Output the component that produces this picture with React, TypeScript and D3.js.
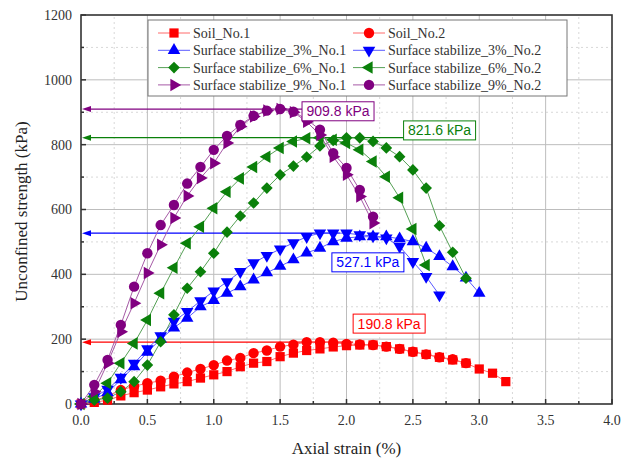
import React from "react";
import * as d3 from "d3";

// strain steps (%) shared by every series
const strain = [0, 0.1, 0.2, 0.3, 0.4, 0.5, 0.6, 0.7, 0.8, 0.9, 1.0, 1.1, 1.2, 1.3, 1.4, 1.5, 1.6,
  1.7, 1.8, 1.9, 2.0, 2.1, 2.2, 2.3, 2.4, 2.5, 2.6, 2.7, 2.8, 2.9, 3.0, 3.1, 3.2];

const soil1 = [0, 5, 12, 25, 35, 43, 53, 62, 69, 80, 90, 100, 115, 126, 131, 146, 157, 165, 170, 176,
  180, 182, 182, 177, 170, 161, 153, 144, 136, 126, 108, 95, 69];
const soil2 = [0, 10, 25, 43, 55, 64, 72, 84, 97, 108, 120, 134, 142, 157, 165, 177, 183, 191, 190.8, 189,
  185, 184, 182, 177, 170, 161, 153, 144, 138, 126];
const s3No1 = [0, 15, 35, 75, 115, 160, 200, 235, 265, 300, 320, 342, 362, 383, 405, 425, 445, 466, 481, 501,
  512, 516, 516, 516, 510, 501, 481, 455, 424, 389, 342];
const s3No2 = [0, 22, 45, 82, 125, 170, 210, 255, 285, 318, 348, 377, 408, 435, 458, 478, 497, 516, 527.1, 527,
  527, 522, 518, 512, 486, 439, 393, 336];
const s6No1 = [0, 12, 18, 38, 69, 120, 192, 275, 357, 408, 465, 530, 580, 620, 666, 707, 734, 762, 796, 813,
  821, 821, 810, 790, 763, 722, 666, 550, 468, 388];
const s6No2 = [0, 23, 64, 126, 187, 259, 342, 420, 496, 547, 604, 655, 696, 731, 763, 790, 810, 820, 821.6, 815,
  805, 784, 748, 701, 636, 540, 429];
const s9No1 = [0, 38, 126, 223, 311, 404, 491, 574, 642, 697, 743, 805, 856, 887, 905, 909.8, 900, 871, 830, 763,
  707, 640, 558];
const s9No2 = [0, 59, 136, 244, 362, 465, 552, 614, 680, 731, 784, 827, 861, 889, 905, 910, 902, 878, 846, 774,
  728, 660, 578];

const names = ["Soil_No.1", "Soil_No.2", "Surface stabilize_3%_No.1", "Surface stabilize_3%_No.2",
  "Surface stabilize_6%_No.1", "Surface stabilize_6%_No.2", "Surface stabilize_9%_No.1", "Surface stabilize_9%_No.2"];
const values = [soil1, soil2, s3No1, s3No2, s6No1, s6No2, s9No1, s9No2];

// peak annotations
const peakValues = [909.8, 821.6, 527.1, 190.8];
const peakTexts = ["909.8 kPa", "821.6 kPa", "527.1 kPa", "190.8 kPa"];
const peakLineEnd = [1.665, 2.43, 1.95, 2.05];   // strain where each arrow line stops
const peakLabelX = [1.665, 2.43, 1.89, 2.05];    // strain of label box left edge
const peakLabelY = [903, 844, 437, 248];         // kPa of label box centre

const xTicks = [0, 0.5, 1, 1.5, 2, 2.5, 3, 3.5, 4];
const yTicks = [0, 200, 400, 600, 800, 1000, 1200];

const markerColor = ["#ff0000", "#ff0000", "#0000ff", "#0000ff", "#0a800a", "#0a800a", "#800080", "#800080"];
const lineColor = ["#ff6a6a", "#ff6a6a", "#5a5aff", "#5a5aff", "#55a055", "#55a055", "#a65aa6", "#a65aa6"];
const peakColor = ["#800080", "#0a800a", "#0000ff", "#ff0000"];
const shapes = ["square", "circle", "up", "down", "diamond", "left", "right", "circle"];

const serif = "Liberation Serif, Times New Roman, DejaVu Serif, serif";
const sans = "Liberation Sans, Arial, sans-serif";

function Marker({ shape, x, y, color }: { shape: string; x: number; y: number; color: string }) {
  let path: string | null = null;
  let rot = 0;
  if (shape === "square") path = d3.symbol(d3.symbolSquare, 85)();
  else if (shape === "circle") path = d3.symbol(d3.symbolCircle, 85)();
  else if (shape === "diamond") { path = d3.symbol(d3.symbolSquare, 68)(); rot = 45; }
  else {
    path = d3.symbol(d3.symbolTriangle, 68)();
    rot = shape === "up" ? 0 : shape === "down" ? 180 : shape === "left" ? -90 : 90;
  }
  return <path d={path || ""} fill={color} transform={`translate(${x},${y}) rotate(${rot})`} />;
}

export default function App() {
  const W = 621, H = 462;
  const x = d3.scaleLinear().domain([0, 4]).range([81, 612]);
  const y = d3.scaleLinear().domain([0, 1200]).range([404, 15]);
  const line = d3.line<number>().x((_, i) => x(strain[i])).y(d => y(d));

  const xMinor = d3.range(0, 4.001, 0.25);
  const yMinor = d3.range(0, 1200.1, 100);
  const serifStyle = { fontFamily: serif };

  return (
    <svg width={W} height={H} style={{ position: "absolute", left: 0, top: 0, background: "#fff" }}>
      {/* grid */}
      {xMinor.filter(v => v % 0.5 !== 0).map(v => (
        <line key={"xm" + v} x1={x(v)} x2={x(v)} y1={y(0)} y2={y(1200)} stroke="#d8d8d8" strokeDasharray="2,3" />
      ))}
      {yMinor.filter(v => v % 200 !== 0).map(v => (
        <line key={"ym" + v} x1={x(0)} x2={x(4)} y1={y(v)} y2={y(v)} stroke="#d8d8d8" strokeDasharray="2,3" />
      ))}
      {xTicks.slice(1, -1).map(v => (
        <line key={"xg" + v} x1={x(v)} x2={x(v)} y1={y(0)} y2={y(1200)} stroke="#bdbdbd" />
      ))}
      {yTicks.slice(1, -1).map(v => (
        <line key={"yg" + v} x1={x(0)} x2={x(4)} y1={y(v)} y2={y(v)} stroke="#bdbdbd" />
      ))}

      {/* frame and ticks */}
      <rect x={x(0)} y={y(1200)} width={x(4) - x(0)} height={y(0) - y(1200)} fill="none" stroke="#333" strokeWidth={1.6} />
      {xMinor.map(v => (
        <line key={"xt" + v} x1={x(v)} x2={x(v)} y1={y(0)} y2={y(0) - (v % 0.5 === 0 ? 5 : 3)} stroke="#333" strokeWidth={1.5} />
      ))}
      {yMinor.map(v => (
        <line key={"yt" + v} x1={x(0)} x2={x(0) + (v % 200 === 0 ? 5 : 3)} y1={y(v)} y2={y(v)} stroke="#333" strokeWidth={1.5} />
      ))}
      {xTicks.map(v => (
        <text key={"xl" + v} x={x(v)} y={425} textAnchor="middle" style={serifStyle} fontSize={14} fill="#333">
          {v.toFixed(1)}
        </text>
      ))}
      {yTicks.map(v => (
        <text key={"yl" + v} x={72} y={y(v)} dy="0.35em" textAnchor="end" style={serifStyle} fontSize={14} fill="#333">
          {v}
        </text>
      ))}
      <text x={(x(0) + x(4)) / 2} y={454} textAnchor="middle" style={serifStyle} fontSize={17} fill="#222">
        Axial strain (%)
      </text>
      <text transform={`translate(27,${(y(0) + y(1200)) / 2 + 2}) rotate(-90)`} textAnchor="middle" style={serifStyle} fontSize={17} fill="#222">
        Unconfined strength (kPa)
      </text>

      {/* peak arrows */}
      {peakValues.map((p, i) => (
        <g key={"pk" + i}>
          <line x1={x(0) + 6} x2={x(peakLineEnd[i])} y1={y(p)} y2={y(p)} stroke={peakColor[i]} strokeWidth={1.2} />
          <path d={`M${x(0) + 1},${y(p)} L${x(0) + 10},${y(p) - 3} L${x(0) + 10},${y(p) + 3} Z`} fill={peakColor[i]} />
        </g>
      ))}

      {/* series */}
      {values.map((vals, i) => (
        <path key={"ln" + i} d={line(vals) || ""} fill="none" stroke={lineColor[i]} strokeWidth={1} />
      ))}
      {values.map((vals, i) => (
        <g key={"mk" + i}>
          {vals.map((v, j) => (
            <Marker key={j} shape={shapes[i]} x={x(strain[j])} y={y(v)} color={markerColor[i]} />
          ))}
        </g>
      ))}

      {/* peak labels */}
      {peakTexts.map((t, i) => (
        <g key={"pl" + i}>
          <rect x={x(peakLabelX[i])} y={y(peakLabelY[i]) - 9.5} width={72} height={19} fill="#fff" stroke={peakColor[i]} strokeWidth={1} />
          <text x={x(peakLabelX[i]) + 36} y={y(peakLabelY[i])} dy="0.36em" textAnchor="middle" style={{ fontFamily: sans }} fontSize={14} fill={peakColor[i]}>
            {t}
          </text>
        </g>
      ))}

      {/* legend */}
      <rect x={148} y={20} width={419} height={76} fill="#fff" stroke="#777" strokeWidth={1} />
      {names.map((n, i) => {
        const row = Math.floor(i / 2), col = i % 2;
        const lx = col === 0 ? 158 : 353;
        const ly = 33 + row * 17.3;
        return (
          <g key={"lg" + i}>
            <line x1={lx} x2={lx + 32} y1={ly} y2={ly} stroke={lineColor[i]} strokeWidth={1} />
            <Marker shape={shapes[i]} x={lx + 16} y={ly} color={markerColor[i]} />
            <text x={lx + 35} y={ly} dy="0.35em" style={serifStyle} fontSize={14} fill="#333">{n}</text>
          </g>
        );
      })}
    </svg>
  );
}
